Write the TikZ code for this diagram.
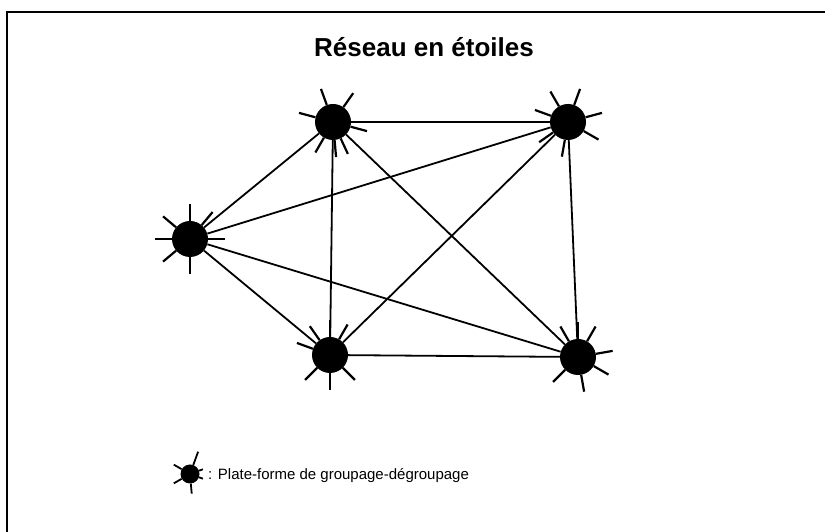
\documentclass[tikz,border=0pt]{standalone}
\usepackage{fontspec}
\setmainfont{Liberation Sans}
\tikzset{
  platform/.style={circle,fill=black,inner sep=0pt,minimum size=36pt},
  smallplatform/.style={circle,fill=black,inner sep=0pt,minimum size=19pt},
  spike/.style={line width=2.2pt},
  link/.style={line width=1.8pt}
}
\begin{document}
\begin{tikzpicture}[x=1pt,y=1pt]
      \useasboundingbox (0,0) rectangle (825,532);
      \draw[line width=2.2pt] (7,0) -- (7,520) -- (825,520);
      \node[anchor=base,font=\bfseries\fontsize{26}{30}\selectfont] (title) at (424,475) {Réseau en étoiles};
      \draw
        (190,293) node[platform] (A){}
        (333,410) node[platform] (B){}
        (568,410) node[platform] (C){}
        (330,177) node[platform] (D){}
        (578,175) node[platform] (E){};
      \begin{scope}[link]
        \draw (A) to (B);
        \draw (A) to (C);
        \draw (A) to (D);
        \draw (A) to (E);
        \draw (B) to (C);
        \draw (B) to (D);
        \draw (B) to (E);
        \draw (C) to (D);
        \draw (C) to (E);
        \draw (D) to (E);
      \end{scope}
      \begin{scope}[spike]
        \foreach \a in {90,140,180,220,270,50,0}
          \draw (A.\a) -- ++(\a:17);
        \foreach \a in {110,55,165,-15,240,-65,275}
          \draw (B.\a) -- ++(\a:17);
        \foreach \a in {120,70,15,-30,260,215,160}
          \draw (C.\a) -- ++(\a:17);
        \foreach \a in {90,125,60,160,225,270,315}
          \draw (D.\a) -- ++(\a:17);
        \foreach \a in {90,120,60,10,-30,-80,225}
          \draw (E.\a) -- ++(\a:17);
      \end{scope}
      \node[smallplatform] (L) at (190,58) {};
      \foreach \a/\l in {70/14,150/9,210/9,275/10,20/4,340/4}
        \draw[line width=1.8pt] (L.\a) -- ++(\a:\l);
      \node[anchor=base west,font=\fontsize{15}{18}\selectfont,inner sep=0pt] (legend) at (208,52) {: Plate-forme de groupage-dégroupage};
    \end{tikzpicture}
\end{document}
